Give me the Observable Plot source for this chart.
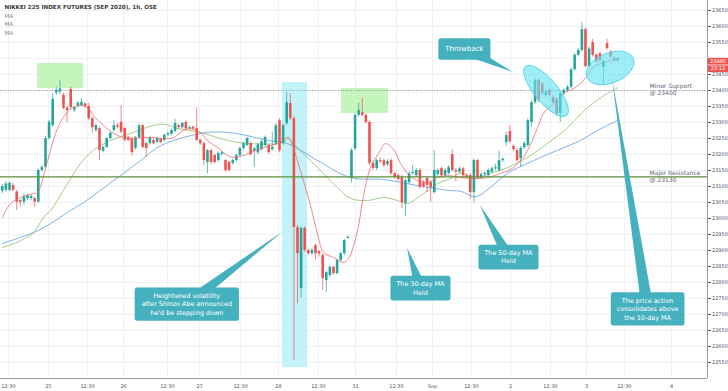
<!DOCTYPE html>
<html><head><meta charset="utf-8">
<script src="https://cdn.jsdelivr.net/npm/d3@7"></script>
<script src="https://cdn.jsdelivr.net/npm/@observablehq/plot@0.6"></script>
<style>
html,body{margin:0;padding:0;background:#fff;}
#chart{width:728px;height:391px;}
</style></head><body><div id="chart"></div>
<script>
// ---- Candles (hourly), index 0..171 ----
const candleOpen = [
23085,23088,23088,23103,23083,23056,23051,23062,23062,23062,
23051,23150,23160,23250,23290,23392,23395,23385,23345,23403,
23338,23352,23353,23358,23350,23312,23275,23281,23210,23222,
23250,23275,23290,23301,23281,23253,23250,23219,23253,23290,
23234,23234,23244,23238,23247,23244,23260,23263,23272,23290,
23284,23300,23280,23285,23281,23244,23234,23175,23212,23197,
23181,23200,23181,23175,23172,23181,23197,23219,23228,23234,
23210,23205,23215,23228,23228,23215,23234,23306,23234,23297,
23359,23312,22972,22781,22969,22900,22890,22915,22896,22884,
22806,22822,22847,22828,22869,22890,22938,23125,23218,23322,
23331,23322,23300,23172,23156,23181,23181,23168,23181,23140,
23134,23128,23047,23112,23140,23134,23150,23112,23125,23112,
23081,23137,23156,23134,23140,23200,23150,23145,23155,23134,
23134,23081,23181,23128,23137,23134,23145,23155,23150,23181,
23237,23272,23225,23212,23187,23222,23228,23300,23362,23431,
23420,23385,23400,23378,23370,23328,23390,23400,23410,23465,
23510,23525,23590,23475,23550,23510,23515,23472,23547,23520,
23500,23494];
const candleHigh = [
23105,23115,23114,23110,23088,23060,23077,23076,23074,23066,
23155,23165,23256,23306,23390,23410,23431,23392,23350,23410,
23350,23365,23375,23362,23360,23316,23295,23286,23226,23254,
23270,23306,23296,23353,23285,23258,23254,23256,23295,23294,
23238,23257,23249,23254,23251,23264,23270,23279,23310,23295,
23301,23305,23289,23290,23345,23248,23238,23216,23216,23201,
23207,23210,23185,23179,23185,23201,23223,23238,23254,23240,
23222,23235,23245,23258,23232,23270,23296,23312,23296,23395,
23390,23320,22978,22975,22975,22906,22906,22920,22900,22890,
22836,22852,22852,22874,22895,22936,22945,23218,23328,23360,
23375,23328,23305,23176,23186,23190,23186,23184,23186,23144,
23140,23134,23124,23145,23166,23156,23156,23118,23130,23117,
23212,23156,23161,23156,23165,23215,23156,23161,23160,23140,
23140,23187,23186,23143,23146,23156,23161,23170,23210,23190,
23270,23290,23230,23217,23225,23240,23312,23368,23437,23437,
23426,23400,23405,23383,23376,23396,23406,23416,23471,23516,
23531,23612,23596,23536,23560,23516,23520,23494,23560,23525,
23506,23502];
const candleLow = [
23078,23082,23084,23084,23025,23035,23040,23056,23055,23035,
23048,23145,23155,23245,23285,23385,23388,23340,23300,23340,
23330,23345,23350,23345,23305,23265,23268,23181,23205,23218,
23245,23270,23280,23265,23240,23240,23195,23214,23248,23218,
23190,23230,23230,23234,23234,23240,23255,23258,23268,23278,
23280,23275,23274,23274,23240,23228,23165,23140,23170,23170,
23176,23195,23145,23145,23167,23177,23192,23214,23224,23195,
23160,23200,23210,23224,23200,23210,23228,23205,23228,23290,
23305,22556,22734,22750,22895,22885,22884,22870,22880,22775,
22769,22815,22822,22822,22864,22885,22935,23110,23212,23316,
23318,23295,23165,23150,23150,23172,23160,23162,23135,23122,
23117,23030,23005,23106,23135,23128,23092,23095,23081,23050,
23075,23132,23128,23129,23136,23145,23115,23140,23128,23125,
23060,23050,23122,23123,23131,23129,23140,23150,23145,23175,
23225,23235,23210,23176,23160,23216,23222,23285,23356,23362,
23385,23378,23380,23356,23320,23300,23385,23395,23405,23460,
23505,23520,23470,23470,23505,23485,23488,23420,23526,23500,
23490,23488];
const candleClose = [
23100,23108,23110,23088,23051,23051,23067,23072,23069,23051,
23150,23160,23250,23301,23372,23400,23405,23344,23337,23347,
23346,23360,23363,23350,23312,23284,23290,23212,23222,23250,
23266,23290,23285,23270,23244,23244,23206,23253,23290,23222,
23219,23253,23234,23250,23238,23260,23265,23275,23297,23284,
23297,23280,23284,23280,23244,23234,23181,23212,23175,23175,
23203,23205,23150,23150,23181,23197,23219,23234,23250,23200,
23218,23230,23240,23253,23206,23222,23290,23212,23290,23362,
23312,22972,22890,22969,22900,22890,22900,22890,22889,22812,
22831,22847,22828,22869,22890,22931,22942,23212,23322,23337,
23322,23300,23172,23156,23181,23177,23165,23178,23140,23128,
23122,23050,23118,23140,23144,23150,23097,23100,23103,23097,
23150,23150,23134,23150,23159,23150,23145,23155,23134,23130,
23081,23181,23128,23137,23141,23150,23155,23159,23181,23185,
23259,23240,23215,23181,23219,23234,23306,23362,23431,23369,
23390,23395,23385,23362,23328,23390,23400,23410,23465,23510,
23525,23590,23475,23530,23510,23490,23494,23490,23531,23505,
23495,23500];

// ---- Moving averages: [candle index, value] ----
const ma10 = [[0,23003],[2.3,23047],[5.1,23066],[8.7,23078],[9.8,23081],[12.6,23181],[14.8,23266],[17,23316],[19.5,23347],[21.7,23353],[23.7,23347],[25.3,23322],[28.1,23291],[30.9,23266],[33.7,23253],[36.4,23250],[39.2,23253],[42,23253],[44.8,23250],[47.6,23253],[50.3,23275],[52.3,23281],[55,23269],[57,23244],[59.8,23222],[62.6,23197],[64.2,23191],[67,23197],[69,23206],[72.6,23222],[76.4,23234],[79.2,23253],[80,23244],[82.8,23150],[85.6,23041],[87.8,22941],[89.2,22894],[92,22878],[94.8,22863],[96.2,22875],[98.7,22963],[100.1,23056],[102.3,23159],[105,23212],[106.4,23234],[108.7,23216],[110.6,23172],[112.6,23141],[114.2,23125],[118.1,23113],[120.9,23128],[123.7,23134],[127.3,23128],[130.9,23125],[134.8,23128],[138.4,23141],[141.2,23153],[144,23181],[145.9,23212],[148.7,23284],[150.3,23328],[153.1,23359],[155.9,23391],[158.7,23406],[161.4,23431],[164.2,23472],[167,23488],[169.8,23494],[171,23495]];
const ma30 = [[0,22909],[5.1,22931],[8.7,22956],[11.4,23003],[13.4,23025],[18.1,23109],[21.7,23172],[25.3,23213],[30.1,23244],[36.4,23269],[42,23291],[45.3,23294],[48.7,23281],[55,23269],[62.6,23244],[69,23234],[78.1,23238],[79.5,23253],[80.9,23234],[87.6,23159],[93.1,23097],[96.7,23063],[101.4,23056],[105.9,23066],[109.8,23056],[112.6,23047],[117,23078],[120.9,23109],[124.5,23125],[127.3,23141],[131.4,23125],[135.6,23141],[140.3,23159],[145.9,23191],[151.4,23234],[157,23284],[162.6,23347],[168.1,23391],[171,23409]];
const ma50 = [[0,22922],[5.1,22941],[8.7,22956],[13.4,22984],[18.1,23019],[22.6,23050],[27.3,23088],[32,23128],[33.7,23141],[38.4,23181],[43.1,23222],[47.6,23244],[52.3,23259],[57,23269],[62.6,23269],[68.1,23259],[73.7,23244],[79.2,23234],[87.6,23181],[96.7,23128],[105.9,23122],[115.3,23103],[123.7,23088],[127.3,23085],[131.4,23068],[135.6,23097],[140.3,23141],[147.6,23181],[154.2,23213],[160.6,23244],[165.3,23275],[170.9,23306]];

// ---- Axis ticks ----
const xTickPos = [1.7,12.8,23.7,33.7,45.9,54.8,66.2,76.7,87.8,98.1,109.5,119.5,130.3,141.2,152.3,162.3,172.8,185.9];
const xTickLabels = ["12:30","25","12:30","26","12:30","27","12:30","28","12:30","31","12:30","Sep","12:30","2","12:30","3","12:30","4"];
const yTicks = [22550,22600,22650,22700,22750,22800,22850,22900,22950,23000,23050,23100,23150,23200,23250,23300,23350,23400,23450,23500,23550,23600,23650];

// ---- Levels & annotations ----
const levelValues = [23400, 23130];
const levelLabels = ["Minor Support\n@ 23400", "Major Resistance\n@ 23130"];
const greenZones = [{x1: 9.8, x2: 22.6, y1: 23406, y2: 23484}, {x1: 94.2, x2: 107.3, y1: 23328, y2: 23406}];
const cyanBand = [{x1: 77.8, x2: 84.8, y1: 22534, y2: 23425}];
const ellipseI = [151.2, 169];
const ellipseV = [23397, 23469];
const calloutText = [["Throwback"], ["Heightened volatility","after Shinzo Abe announced","he'd be stepping down"], ["The 30-day MA","Held"], ["The 50-day MA","Held"], ["The price action","consolidates above","the 10-day MA"]];
const calloutI = [128.5, 51.4, 116.3, 140.75, 179.4];
const calloutV = [23528, 22731, 22781, 22878, 22716];
const calloutTipI = [142, 77.8, 112.6, 132.8, 169.5];
const calloutTipV = [23456, 22956, 22906, 23041, 23437];
const lastPrice = 23490;
const lastLabels = ["23490", "23:12"];
const titleText = "NIKKEI 225 INDEX FUTURES (SEP 2020), 1h, OSE";

const candles = candleOpen.map((o, i) => ({i, o, h: candleHigh[i], l: candleLow[i], c: candleClose[i]}));
const up = candles.filter(d => d.c >= d.o);
const down = candles.filter(d => d.c < d.o);
const UP = "#26a69a", DOWN = "#ef5350";
const levels = levelValues.map((v, k) => ({v, t: levelLabels[k]}));

const plot = Plot.plot({
  width: 728, height: 391,
  marginLeft: 0, marginRight: 21, marginTop: 0, marginBottom: 13,
  style: {fontFamily: "DejaVu Sans, sans-serif", fontSize: "5px", color: "#555", background: "#fff", overflow: "visible"},
  x: {domain: [-0.5, 195.9], ticks: xTickPos, tickFormat: d => xTickLabels[xTickPos.indexOf(d)], tickSize: 0, tickPadding: 5.5, label: null},
  // the 23500 label sits under the last-price box in the reference
  y: {domain: [22500, 23681.25], axis: "right", ticks: yTicks, tickFormat: d => (d === 23500 ? "" : String(d)), tickSize: 3, tickPadding: 1.5, label: null},
  marks: [
    Plot.ruleY(yTicks, {stroke: "#eef0f4", strokeWidth: 1}),
    Plot.ruleX(xTickPos, {stroke: "#eef0f4", strokeWidth: 1}),
    Plot.rect(greenZones, {x1: "x1", x2: "x2", y1: "y1", y2: "y2", fill: "#c3f5bd"}),
    Plot.rect(cyanBand, {x1: "x1", x2: "x2", y1: "y1", y2: "y2", fill: "#c2f3f8"}),
    Plot.ruleY([levelValues[0]], {stroke: "#7a7a7a", strokeWidth: 0.8, strokeDasharray: "1,1.6"}),
    Plot.line(ma50, {x: d => d[0], y: d => d[1], stroke: "#5b9ee0", strokeWidth: 0.8, curve: "catmull-rom"}),
    Plot.line(ma30, {x: d => d[0], y: d => d[1], stroke: "#8fbf6a", strokeWidth: 0.8, curve: "catmull-rom"}),
    Plot.ruleX(up, {x: "i", y1: "l", y2: "h", stroke: UP, strokeWidth: 0.7}),
    Plot.ruleX(down, {x: "i", y1: "l", y2: "h", stroke: DOWN, strokeWidth: 0.7}),
    Plot.ruleX(up, {x: "i", y1: "o", y2: "c", stroke: UP, strokeWidth: 2.6}),
    Plot.ruleX(down, {x: "i", y1: "o", y2: "c", stroke: DOWN, strokeWidth: 2.6}),
    Plot.line(ma10, {x: d => d[0], y: d => d[1], stroke: "#f0686b", strokeWidth: 0.8, curve: "catmull-rom"}),
    Plot.ruleY([levelValues[1]], {stroke: "#5d8f3a", strokeWidth: 1.3}),
    Plot.ruleY([22500], {stroke: "#9a9a9a", strokeWidth: 1}),
    Plot.ruleX([195.9], {stroke: "#9a9a9a", strokeWidth: 1}),
    Plot.text(levels, {x: 179.8, y: "v", text: "t", textAnchor: "start", lineAnchor: "middle", dy: -1, fontSize: 6, fill: "#5a6878", lineHeight: 1.15}),
    Plot.text([titleText], {frameAnchor: "top-left", dx: 4, dy: 4.5, fontSize: 5.6, fill: "#3a3a3a", fontWeight: 600}),
    Plot.text(["MA\nMA\nMA"], {frameAnchor: "top-left", dx: 4, dy: 12, fontSize: 5.6, fill: "#8a8a8a", lineHeight: 1.45})
  ]
});
document.getElementById("chart").appendChild(plot);

// Annotations positioned through Plot's own scales
const X = plot.scale("x"), Y = plot.scale("y");
const g = d3.select(plot).append("g");
const ellipseShape = [[32, 11.5, 50], [25, 15, -22]];
ellipseI.forEach((ei, k) => {
  const cx = X.apply(ei), cy = Y.apply(ellipseV[k]);
  const [rx, ry, rot] = ellipseShape[k];
  g.append("ellipse").attr("cx", cx).attr("cy", cy).attr("rx", rx).attr("ry", ry)
    .attr("transform", `rotate(${rot} ${cx} ${cy})`)
    .attr("fill", "#5fe2f1").attr("fill-opacity", 0.6).attr("stroke", "#3fd2e6").attr("stroke-width", 0.8);
});
const CALL = "#45b1bf";
const calloutStyle = [{fs: 7, padY: 6.5, padX: 14}, {fs: 6.4, padY: 4, padX: 14}, {fs: 6.4, padY: 4, padX: 12}, {fs: 6.4, padY: 4, padX: 12}, {fs: 6.4, padY: 4, padX: 12}];
calloutText.forEach((lines, k) => {
  const cx = X.apply(calloutI[k]), cy = Y.apply(calloutV[k]);
  const tx = X.apply(calloutTipI[k]), ty = Y.apply(calloutTipV[k]);
  const {fs, padY, padX} = calloutStyle[k];
  const lh = 8.4;
  const grp = g.append("g");
  const dx = tx - cx, dy = ty - cy, len = Math.hypot(dx, dy);
  const px = -dy / len * 6, py = dx / len * 6;
  grp.append("path").attr("d", `M${cx + px},${cy + py}L${tx},${ty}L${cx - px},${cy - py}Z`).attr("fill", CALL);
  const rect = grp.append("rect").attr("fill", CALL).attr("rx", 2.5);
  const txt = grp.append("text").attr("fill", "#fff").attr("font-size", fs).attr("font-family", "DejaVu Sans, sans-serif").attr("text-anchor", "middle");
  const h = lines.length * lh + 2 * padY;
  lines.forEach((s, j) => {
    txt.append("tspan").attr("x", cx).attr("y", cy - h / 2 + padY + lh * (j + 0.5)).attr("dy", "0.35em").text(s);
  });
  const w = Math.max(...txt.selectAll("tspan").nodes().map(n => n.getComputedTextLength())) + padX;
  rect.attr("x", cx - w / 2).attr("y", cy - h / 2).attr("width", w).attr("height", h);
});
// last price labels on the price axis
const ly = Y.apply(lastPrice), ax = X.apply(195.9);
lastLabels.forEach((s, k) => {
  const yy = ly + k * 7.5;
  g.append("rect").attr("x", ax + 1).attr("y", yy - 3.4).attr("width", 20).attr("height", 6.8).attr("fill", "#ef5350");
  g.append("text").attr("x", ax + 11).attr("y", yy).attr("dy", "0.35em").attr("text-anchor", "middle").attr("font-size", 5).attr("fill", "#fff").attr("font-family", "DejaVu Sans, sans-serif").text(s);
});
</script></body></html>
